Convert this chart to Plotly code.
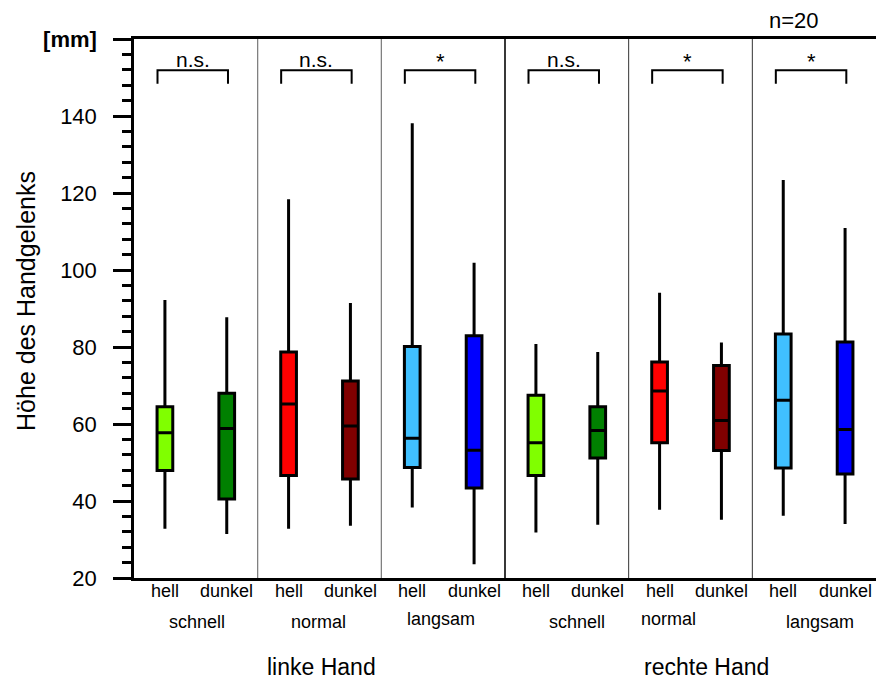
import plotly.graph_objects as go

# ---- data ----
hands = ["linke Hand", "rechte Hand"]
speeds = ["schnell", "normal", "langsam", "schnell", "normal", "langsam"]
conditions = ["hell", "dunkel"]
significance = ["n.s.", "n.s.", "*", "n.s.", "*", "*"]

# order: panel by panel, hell then dunkel
lower_whisker = [32.8, 31.4, 32.8, 33.6, 38.3, 23.6, 31.8, 33.8, 37.7, 35.1, 36.2, 34.0]
q1_values     = [47.9, 40.5, 46.6, 45.7, 48.7, 43.4, 46.6, 51.2, 55.1, 53.1, 48.6, 47.0]
median_values = [57.7, 58.8, 65.2, 59.5, 56.3, 53.2, 55.1, 58.3, 68.6, 60.9, 66.2, 58.6]
q3_values     = [64.5, 68.0, 78.7, 71.2, 80.1, 82.9, 67.5, 64.5, 76.1, 75.2, 83.4, 81.3]
upper_whisker = [92.2, 87.7, 118.4, 91.4, 138.1, 101.9, 80.8, 78.7, 94.1, 81.2, 123.4, 110.9]

colors = ["#80FF00", "#008000", "#FF0000", "#800000", "#40C0FF", "#0000FF",
          "#80FF00", "#008000", "#FF0000", "#800000", "#40C0FF", "#0000FF"]

y_ticks = [20, 40, 60, 80, 100, 120, 140, 160]
y_ticktext = ["20", "40", "60", "80", "100", "120", "140", "<b>[mm]</b>"]

FONT = "Liberation Sans, Arial, Helvetica, sans-serif"

fig = go.Figure()
positions = []
labels = []
for i in range(12):
    panel = i // 2
    pos = panel + (0.25 if i % 2 == 0 else 0.75)
    positions.append(pos)
    labels.append(conditions[i % 2])
    fig.add_trace(go.Box(
        x=[pos], q1=[q1_values[i]], median=[median_values[i]], q3=[q3_values[i]],
        lowerfence=[lower_whisker[i]], upperfence=[upper_whisker[i]],
        width=0.127, whiskerwidth=0, fillcolor=colors[i],
        line=dict(color="black", width=3), showlegend=False, boxpoints=False,
        hoverinfo="skip"))

shapes = []
# panel separators
sep_styles = {1: ("#777777", 1.2), 2: ("#777777", 1.2), 3: ("#222222", 1.8),
              4: ("#333333", 1.0), 5: ("#333333", 1.0)}
for xv, (c, w) in sep_styles.items():
    shapes.append(dict(type="line", xref="x", yref="y", x0=xv, x1=xv, y0=20, y1=160,
                       line=dict(color=c, width=w), layer="below"))

annotations = []
for p in range(6):
    x0 = p + 0.19
    x1 = p + 0.76
    shapes.append(dict(type="path", xref="x", yref="y",
                       path=f"M {x0},148.4 L {x0},151.9 L {x1},151.9 L {x1},148.4",
                       line=dict(color="black", width=2)))
    sig = significance[p]
    annotations.append(dict(x=(x0 + x1) / 2, y=151.9, xref="x", yref="y",
                            text=sig, showarrow=False, yanchor="bottom",
                            yshift=-6 if sig == "*" else -3,
                            font=dict(size=21 if sig == "n.s." else 22, family=FONT, color="black")))

# condition labels under each box
for pos, lab in zip(positions, labels):
    annotations.append(dict(x=pos, y=0, xref="x", yref="paper", text=lab, showarrow=False,
                            yanchor="middle", yshift=-13,
                            font=dict(size=18, family=FONT, color="black")))

group_x = [0.51, 1.49, 2.48, 3.58, 4.32, 5.55]
group_shift = [-44, -44, -41, -44, -41, -44]
for gx, gs, s in zip(group_x, group_shift, speeds):
    annotations.append(dict(x=gx, y=0, xref="x", yref="paper", text=s, showarrow=False,
                            yanchor="middle", yshift=gs,
                            font=dict(size=18, family=FONT, color="black")))
for hx, h in zip([1.52, 4.63], hands):
    annotations.append(dict(x=hx, y=0, xref="x", yref="paper", text=h, showarrow=False,
                            yanchor="middle", yshift=-89,
                            font=dict(size=23, family=FONT, color="black")))

annotations.append(dict(x=0, y=0.514, xref="paper", yref="paper", text="Höhe des Handgelenks",
                        textangle=-90, showarrow=False, xanchor="center", xshift=-108,
                        font=dict(size=25, family=FONT, color="black")))
annotations.append(dict(x=0.926, y=1, xref="paper", yref="paper", text="n=20",
                        showarrow=False, yanchor="middle", yshift=19,
                        font=dict(size=22, family=FONT, color="black")))

fig.update_layout(
    width=876, height=679,
    margin=dict(l=134, r=0, t=39, b=101, autoexpand=False),
    paper_bgcolor="white", plot_bgcolor="white",
    boxmode="overlay",
    shapes=shapes, annotations=annotations,
    font=dict(family=FONT, color="black"),
    xaxis=dict(range=[0, 6], showticklabels=False, ticks="",
               showgrid=False, zeroline=False, showline=True, mirror=True,
               linecolor="black", linewidth=2.5, automargin=False),
    yaxis=dict(range=[20, 160], tickvals=y_ticks, ticktext=y_ticktext,
               ticks="outside", ticklen=18, tickwidth=2.5, tickcolor="black",
               showgrid=False, zeroline=False, showline=True, automargin=False,
               linecolor="black", linewidth=2.5, ticklabelstandoff=12,
               minor=dict(dtick=4, ticks="outside", ticklen=9, tickwidth=2.5, tickcolor="black"),
               tickfont=dict(size=22, family=FONT, color="black")),
)

fig.write_html("out.html", config={"displayModeBar": False},
               post_script="document.body.style.margin='0';document.body.style.overflow='hidden';")
